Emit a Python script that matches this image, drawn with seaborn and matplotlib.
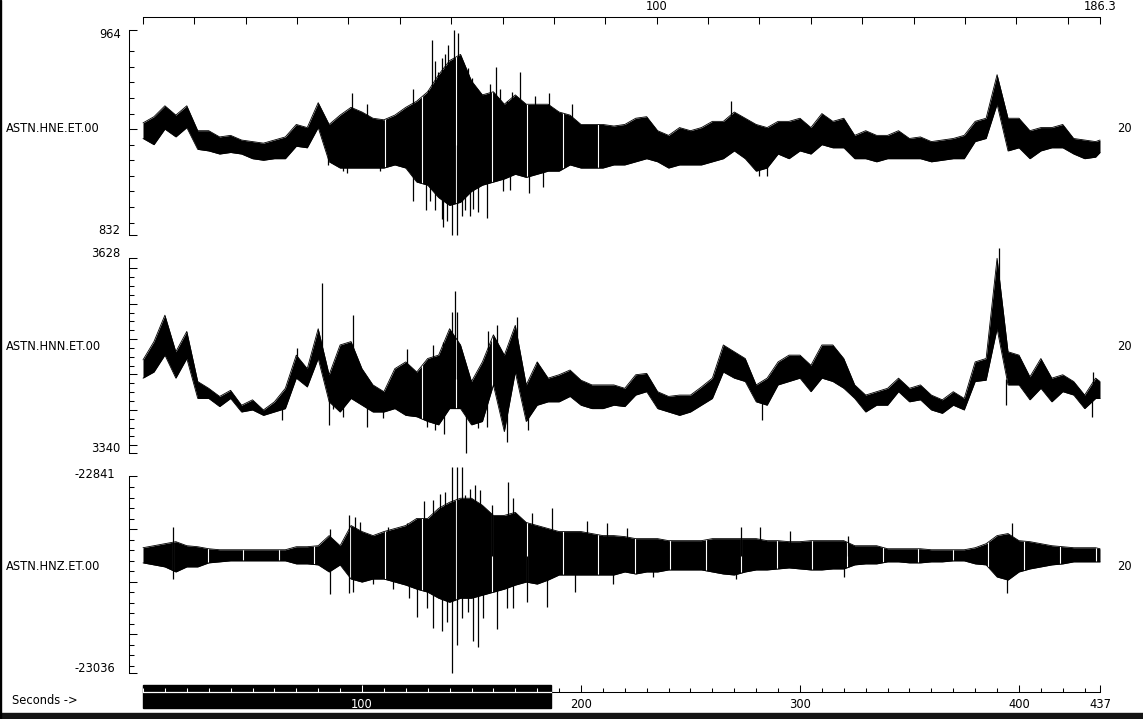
import numpy as np
import pandas as pd
import matplotlib
matplotlib.use("Agg")
import matplotlib.pyplot as plt
from matplotlib.patches import Rectangle
import seaborn as sns

sns.set_style("white", {"axes.edgecolor": "black", "xtick.color": "black",
                        "ytick.color": "black", "text.color": "black"})
plt.rcParams["font.family"] = ["DejaVu Sans"]
FS = 8.3

# ---- data: min / max envelope of each trace, one pair every 5 s ----
t_sec = list(range(0, 440, 5)) + [437]

hne_hi = [904, 908, 915, 909, 915, 899, 899, 895, 896, 893,
          892, 891, 893, 895, 903, 901, 917, 903, 909, 914,
          911, 907, 906, 909, 914, 918, 924, 935, 944, 948,
          931, 922, 924, 916, 922, 916, 916, 916, 911, 909,
          903, 903, 903, 902, 903, 907, 908, 899, 896, 901,
          899, 901, 905, 905, 911, 907, 903, 901, 905, 905,
          907, 901, 910, 905, 907, 896, 899, 896, 896, 899,
          894, 895, 892, 893, 894, 896, 905, 907, 935, 907,
          907, 899, 901, 901, 903, 894, 893, 892, 893]
hne_lo = [894, 890, 900, 895, 901, 887, 886, 884, 885, 884,
          881, 880, 881, 881, 889, 888, 901, 879, 875, 875,
          875, 875, 875, 877, 875, 866, 864, 856, 851, 853,
          860, 864, 866, 868, 871, 869, 871, 873, 873, 877,
          875, 875, 875, 877, 877, 879, 881, 879, 875, 877,
          877, 877, 879, 881, 886, 881, 873, 875, 884, 881,
          886, 884, 890, 888, 888, 881, 881, 879, 881, 881,
          881, 881, 879, 880, 881, 881, 892, 894, 916, 886,
          888, 881, 886, 888, 888, 884, 881, 882, 885]

hnn_hi = [3478, 3505, 3544, 3490, 3520, 3446, 3436, 3424, 3433, 3411,
          3419, 3404, 3416, 3436, 3485, 3465, 3524, 3456, 3500, 3505,
          3465, 3441, 3431, 3465, 3475, 3460, 3480, 3485, 3524, 3500,
          3446, 3475, 3515, 3485, 3529, 3441, 3475, 3451, 3456, 3463,
          3448, 3441, 3441, 3441, 3436, 3456, 3458, 3431, 3424, 3426,
          3426, 3438, 3451, 3500, 3490, 3480, 3441, 3451, 3475, 3485,
          3485, 3470, 3500, 3500, 3480, 3441, 3426, 3431, 3436, 3451,
          3436, 3441, 3426, 3419, 3431, 3421, 3475, 3480, 3628, 3490,
          3485, 3453, 3480, 3451, 3456, 3446, 3426, 3451, 3446]
hnn_lo = [3451, 3460, 3485, 3451, 3480, 3421, 3421, 3409, 3421, 3401,
          3404, 3396, 3401, 3406, 3451, 3438, 3480, 3416, 3401, 3421,
          3411, 3401, 3401, 3406, 3396, 3394, 3387, 3382, 3406, 3406,
          3382, 3387, 3441, 3372, 3460, 3387, 3411, 3416, 3416, 3424,
          3411, 3406, 3406, 3411, 3409, 3426, 3431, 3406, 3401, 3396,
          3401, 3411, 3421, 3460, 3451, 3446, 3416, 3411, 3441, 3446,
          3451, 3431, 3451, 3446, 3436, 3421, 3401, 3411, 3411, 3431,
          3416, 3419, 3404, 3399, 3411, 3404, 3446, 3448, 3524, 3441,
          3441, 3419, 3436, 3416, 3431, 3426, 3406, 3421, 3421]

hnz_hi = [-22912, -22910, -22908, -22906, -22910, -22911, -22913, -22914, -22914, -22914,
          -22914, -22914, -22914, -22914, -22911, -22911, -22910, -22900, -22910, -22890,
          -22896, -22900, -22896, -22893, -22890, -22883, -22883, -22873, -22867, -22863,
          -22863, -22870, -22880, -22880, -22877, -22887, -22890, -22893, -22896, -22896,
          -22896, -22898, -22900, -22900, -22901, -22903, -22903, -22903, -22905, -22905,
          -22905, -22905, -22903, -22903, -22903, -22903, -22903, -22905, -22905, -22906,
          -22906, -22905, -22905, -22905, -22905, -22910, -22910, -22910, -22913, -22913,
          -22913, -22913, -22914, -22914, -22914, -22914, -22912, -22908, -22900, -22898,
          -22905, -22906, -22908, -22910, -22911, -22912, -22912, -22912, -22913]
hnz_lo = [-22927, -22929, -22931, -22936, -22931, -22931, -22927, -22926, -22925, -22925,
          -22925, -22925, -22925, -22925, -22928, -22928, -22929, -22936, -22929, -22943,
          -22946, -22943, -22943, -22946, -22949, -22953, -22956, -22962, -22966, -22962,
          -22962, -22959, -22956, -22953, -22949, -22946, -22948, -22944, -22939, -22939,
          -22939, -22939, -22939, -22939, -22936, -22938, -22936, -22936, -22934, -22934,
          -22934, -22934, -22936, -22938, -22939, -22936, -22934, -22934, -22933, -22932,
          -22933, -22934, -22934, -22933, -22933, -22929, -22928, -22928, -22926, -22926,
          -22927, -22927, -22926, -22926, -22925, -22925, -22928, -22929, -22941, -22944,
          -22936, -22933, -22931, -22929, -22928, -22926, -22926, -22926, -22926]

# single large swings: time, low end, high end
hne_spk_t = [129.2, 131.8, 137.1, 141.2, 142.2, 143.2, 144.0, 156.9, 161.0, 172.1, 268.6, 281.4, 284.9,
             123.4, 130.3, 133.3, 134.9, 136.4, 137.9, 139.4, 144.7, 146.3, 148.6, 150.1, 152.4,
             155.4, 158.4, 163.0, 166.1, 168.3, 179.0, 185.5, 195.7, 95.3, 102.1,
             123.4, 131.1, 133.3, 136.4, 138.7, 145.5, 147.0, 149.3, 150.8, 153.1,
             164.5, 167.6, 176.4, 182.8, 84.6, 91.5, 93.3, 108.2]
hne_spk_lo = [848, 890, 837, 832, 890, 832, 890, 843, 890, 890, 895, 870, 870] + [895] * 22 + \
             [854, 854, 848, 842, 841, 844, 848, 844, 849, 847, 860, 861, 859, 863, 877, 873, 872, 873]
hne_spk_hi = [890, 957, 890, 890, 964, 890, 962, 890, 940, 937, 918, 890, 890,
              926, 925, 944, 937, 946, 948, 954, 943, 931, 939, 933, 926,
              922, 929, 926, 918, 924, 921, 923, 916, 923, 916] + [892] * 18

hnn_spk_t = [63.3, 81.9, 85.1, 95.7, 102.1, 142.5, 147.5, 166.1, 390.9,
             70.2, 120.4, 132.6, 137.1, 141.0, 143.2, 157.7, 161.5, 170.6, 179.8,
             86.6, 91.2, 109.7, 129.5, 133.3, 137.4, 153.1, 156.9, 175.9, 282.5, 393.9, 433.5, 433.9]
hnn_spk_lo = [3389, 3470, 3382, 3470, 3379, 3450, 3341, 3357, 3560,
              3468, 3435, 3435, 3435, 3450, 3450, 3420, 3460, 3490, 3440,
              3406, 3394, 3392, 3379, 3374, 3369, 3377, 3379, 3374, 3389, 3412, 3394, 3430]
hnn_spk_hi = [3410, 3591, 3430, 3544, 3420, 3579, 3420, 3420, 3643,
              3495, 3494, 3500, 3505, 3549, 3549, 3520, 3529, 3542, 3475,
              3440, 3450, 3420, 3430, 3430, 3430, 3430, 3430, 3410, 3430, 3450, 3430, 3460]

hnz_spk_t = [13.9, 85.4, 94.2, 125.3, 132.6, 136.4, 140.9, 143.2, 145.5, 150.8,
             153.1, 161.5, 166.8, 184.6, 394.4, 396.6,
             96.8, 99.1, 112.0, 120.4, 128.5, 135.6, 137.9, 147.0, 149.3, 151.6, 153.9,
             159.2, 169.1, 177.5, 186.6, 202.6, 211.7, 221.2, 273.1, 281.9, 295.6, 321.7,
             96.0, 105.2, 114.3, 121.6, 129.5, 138.7, 145.5, 148.6, 155.4, 166.1, 169.1,
             175.2, 197.3, 214.8, 270.8, 233.0, 320.2]
hnz_spk_lo = [-22943, -22958, -22957, -22981, -22991, -22994, -23036, -23008, -22960, -23004,
              -23010, -22992, -22920, -22971, -22957, -22930] + [-22920] * 22 + \
             [-22956, -22948, -22953, -22962, -22972, -22986, -22982, -22976, -22982, -22972,
              -22972, -22966, -22956, -22948, -22943, -22941, -22941]
hnz_spk_hi = [-22891, -22893, -22880, -22920, -22865, -22920, -22832, -22832, -22832, -22920,
              -22920, -22920, -22847, -22920, -22920, -22888,
              -22882, -22887, -22891, -22888, -22866, -22859, -22857, -22860, -22854, -22850,
              -22855, -22870, -22863, -22878, -22873, -22886, -22888, -22892, -22891, -22891,
              -22895, -22900] + [-22920] * 17

# record-block boundaries that show as thin white gaps across the traces
hne_gap_t = [110.5, 127.2, 142.9, 159.2, 175.2, 191.9, 207.9]
hnn_gap_t = [127.2, 142.9, 159.2]
hnz_gap_t = [13.9, 29.8, 45.8, 62.0, 78.0, 94.5, 110.5, 127.2, 142.9, 159.2, 175.2, 191.9,
             207.9, 224.7, 240.6, 256.9, 273.1, 289.4, 305.3, 321.6, 338.0, 354.0, 370.0,
             386.0, 402.4, 418.7, 435.0]

stations = ["ASTN.HNE.ET.00", "ASTN.HNN.ET.00", "ASTN.HNZ.ET.00"]
y_ranges = [(832, 964), (3340, 3628), (-23036, -22841)]
gain_text = "20"

# tick positions on the amplitude axes
ticks_long = [[900], list(np.linspace(3613, 3352, 21)[::4]),
              list(np.linspace(-22852, -23029, 18)[4::5])]
ticks_short = [list(range(840, 960, 10)), list(np.linspace(3613, 3352, 21)),
               list(np.linspace(-22852, -23029, 18))]

# ---- layout (pixel boxes of the reference) ----
W, H = 1143, 719
fig = plt.figure(figsize=(W / 100, H / 100), dpi=100)


def box(x0, ytop, x1, ybot):
    return [x0 / W, 1 - ybot / H, (x1 - x0) / W, (ybot - ytop) / H]


panel_px = [(29.5, 235), (258.3, 453.3), (476, 673)]
label_y = [128, 346, 566]
top_lab = [(120.5, 35), (120.5, 254), (115.5, 474)]
bot_lab = [(120.5, 231), (120.5, 449), (115.5, 669)]

traces = [(hne_hi, hne_lo, hne_spk_t, hne_spk_lo, hne_spk_hi, hne_gap_t),
          (hnn_hi, hnn_lo, hnn_spk_t, hnn_spk_lo, hnn_spk_hi, hnn_gap_t),
          (hnz_hi, hnz_lo, hnz_spk_t, hnz_spk_lo, hnz_spk_hi, hnz_gap_t)]

for i, (hi, lo, st, slo, shi, gt) in enumerate(traces):
    ytop, ybot = panel_px[i]
    ax = fig.add_axes(box(143, ytop, 1100, ybot))
    ax.patch.set_visible(False)
    df = pd.DataFrame({"t": t_sec, "hi": hi, "lo": lo})
    band = ax.fill_between(df["t"], df["lo"], df["hi"], color="black", lw=0, clip_on=False)
    gaps = ax.vlines(gt, y_ranges[i][0], y_ranges[i][1], colors="white", lw=0.8)
    gaps.set_clip_path(band.get_paths()[0], ax.transData)
    sns.lineplot(data=df, x="t", y="hi", color="black", lw=0.6, ax=ax, clip_on=False)
    sns.lineplot(data=df, x="t", y="lo", color="black", lw=0.6, ax=ax, clip_on=False)
    ax.vlines(st, slo, shi, color="black", lw=0.9, clip_on=False)
    ax.set_xlim(0, 437)
    ax.set_ylim(*y_ranges[i])
    ax.set_xlabel("")
    ax.set_ylabel("")
    for s in ["top", "right", "bottom"]:
        ax.spines[s].set_visible(False)
    ax.spines["left"].set_position(("outward", 10.1))
    ax.spines["left"].set_linewidth(0.75)
    ax.set_xticks([])
    ax.set_yticks(list(y_ranges[i]) + ticks_long[i])
    ax.set_yticks(ticks_short[i], minor=True)
    ax.tick_params(axis="y", which="major", left=True, direction="in", length=5.6, width=0.75,
                   labelleft=False)
    ax.tick_params(axis="y", which="minor", left=True, direction="in", length=3.6, width=0.75)

    fig.text(6 / W, 1 - label_y[i] / H, stations[i], fontsize=FS, va="center", ha="left")
    fig.text(1117 / W, 1 - label_y[i] / H, gain_text, fontsize=FS, va="center", ha="left")
    fig.text(top_lab[i][0] / W, 1 - top_lab[i][1] / H, str(y_ranges[i][1]),
             fontsize=FS, va="center", ha="right")
    fig.text(bot_lab[i][0] / W, 1 - bot_lab[i][1] / H, str(y_ranges[i][0]),
             fontsize=FS, va="center", ha="right")

# ---- top time scale (zoom window) ----
axt = fig.add_axes([143 / W, 1 - 17 / H, 957 / W, 0.0001])
axt.patch.set_visible(False)
axt.set_xlim(0, 186.3)
for s in ["left", "right", "bottom"]:
    axt.spines[s].set_visible(False)
axt.spines["top"].set_linewidth(0.75)
axt.xaxis.tick_top()
top_ticks = list(range(0, 190, 10)) + [186.3]
axt.set_xticks(top_ticks)
axt.set_xticklabels(["100" if v == 100 else "186.3" if v == 186.3 else "" for v in top_ticks])
axt.tick_params(axis="x", top=True, direction="in", length=5, width=0.75, pad=3, labelsize=FS)
axt.set_yticks([])

# ---- bottom seconds scale ----
fig.add_artist(Rectangle((143 / W, 1 - 708 / H), 408 / W, 23 / H, transform=fig.transFigure,
                         color="black", zorder=-1))
axb = fig.add_axes([143 / W, 1 - 692 / H, 957 / W, 0.0001])
axb.patch.set_visible(False)
axb.set_xlim(0, 437)
for s in ["left", "right", "top"]:
    axb.spines[s].set_visible(False)
axb.spines["bottom"].set_linewidth(0.75)
sec_major = [0, 100, 200, 300, 400, 437]
axb.set_xticks(sec_major)
axb.set_xticklabels(["", "", "200", "300", "400", "437"])
axb.set_xticks(list(range(0, 437, 10)), minor=True)
axb.tick_params(axis="x", which="major", bottom=True, direction="in", length=5, width=0.75,
                pad=4, labelsize=FS)
axb.tick_params(axis="x", which="minor", bottom=True, direction="in", length=2.6, width=0.75)
axb.set_yticks([])

axw = fig.add_axes([143 / W, 1 - 692 / H, 408 / W, 0.0001], zorder=3)
axw.patch.set_visible(False)
axw.set_xlim(0, 186.3)
for s in ["left", "right", "top"]:
    axw.spines[s].set_visible(False)
axw.spines["bottom"].set_color("white")
axw.spines["bottom"].set_linewidth(0.9)
axw.set_xticks([100])
axw.set_xticklabels(["100"])
axw.set_xticks(list(range(0, 187, 10)), minor=True)
axw.tick_params(axis="x", which="major", bottom=True, direction="in", length=5, width=0.75,
                pad=4, labelsize=FS, color="white", labelcolor="white")
axw.tick_params(axis="x", which="minor", bottom=True, direction="in", length=2.6, width=0.75,
                color="white")
axw.set_yticks([])

fig.text(12 / W, 1 - 701 / H, "Seconds ->", fontsize=FS, va="center", ha="left")

# window frame bits
fig.add_artist(Rectangle((0, 0), 1, 6 / H, transform=fig.transFigure, color="#141414", zorder=5))
fig.add_artist(Rectangle((0, 0), 1.2 / W, 1, transform=fig.transFigure, color="black", zorder=5))

fig.savefig("out.png", dpi=100)
